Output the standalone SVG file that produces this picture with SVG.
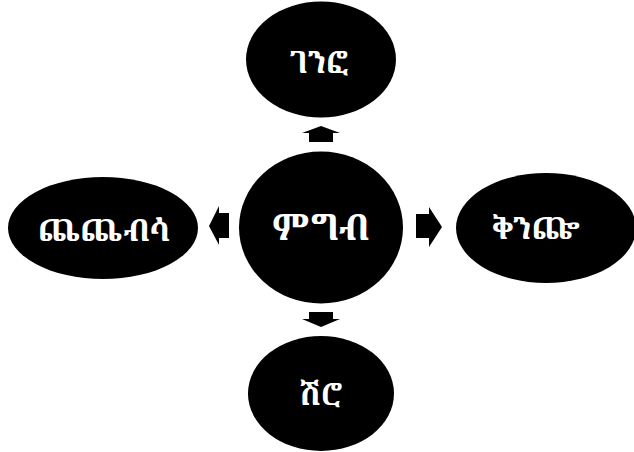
<svg xmlns="http://www.w3.org/2000/svg" width="634" height="452" viewBox="0 0 634 452">
<style>
.n{fill:#000}
.t{fill:#fff;font-family:"Noto Serif Ethiopic","Abyssinica SIL","Noto Sans Ethiopic","DejaVu Sans","Noto Sans",sans-serif;font-weight:bold;text-anchor:middle;dominant-baseline:central}
.a{fill:#000}
</style>
<rect width="634" height="452" fill="#fff"/>
<g id="connectors">
<polygon class="a" points="321,126 340,133 333,133 333,142 309,142 309,133 302,133"/>
<polygon class="a" points="321,327 340,319 333,319 333,312 309,312 309,319 302,319"/>
<polygon class="a" points="209,226 219,206 219,213 229,213 229,238 219,238 219,245"/>
<polygon class="a" points="442,227 429,207 429,214 416,214 416,238 429,238 429,247"/>
</g>
<g id="center"><ellipse class="n" cx="321" cy="227.5" rx="82" ry="76"/><text class="t" x="321" y="226" font-size="36">ምግብ</text></g>
<g id="top"><ellipse class="n" cx="321" cy="59.5" rx="75" ry="58"/><text class="t" x="319" y="61" font-size="30">ገንፎ</text></g>
<g id="bottom"><ellipse class="n" cx="321" cy="393.5" rx="73" ry="57.5"/><text class="t" x="321" y="393" font-size="30">ሽሮ</text></g>
<g id="left"><ellipse class="n" cx="103" cy="228" rx="95" ry="51"/><text class="t" x="104" y="229" font-size="31">ጨጨብሳ</text></g>
<g id="right"><ellipse class="n" cx="546" cy="228" rx="90" ry="55"/><text class="t" x="536" y="227" font-size="30">ቅንጬ</text></g>
</svg>
